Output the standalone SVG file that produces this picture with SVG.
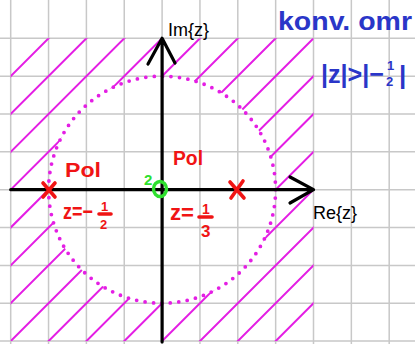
<svg xmlns="http://www.w3.org/2000/svg" width="415" height="344" viewBox="0 0 415 344">
<style>
.grid{stroke:#c8c8c8;stroke-width:1.5;fill:none}
.hatch{stroke:#e41ee4;stroke-width:2;fill:none}
.roc{stroke:#e41ee4;stroke-width:3.8;fill:none;stroke-linecap:round;stroke-dasharray:0 8.49}
.axis{stroke:#000;stroke-width:3.2;fill:none;stroke-linecap:round;stroke-linejoin:round}
.pole{stroke:#f01414;stroke-width:3.6;stroke-linecap:round;fill:none}
.red{fill:#f01414;font-family:"Liberation Sans",Arial,sans-serif;font-weight:bold}
.blue{fill:#2a36c8;font-family:"Liberation Sans",Arial,sans-serif;font-weight:bold}
.blk{fill:#000;font-family:"Liberation Sans",Arial,sans-serif}
.green{fill:#2ee02e;font-family:"Liberation Sans",Arial,sans-serif;font-weight:bold}
</style>
<defs>
<mask id="outside">
<rect x="10.7" y="38.3" width="302.8" height="302.8" fill="#fff"/>
<circle cx="162.1" cy="189.7" r="113.5" fill="#000"/>
</mask>
</defs>
<rect width="415" height="344" fill="#fff"/>
<g id="grid" class="grid">
<path d="M10.7 0V344M48.55 0V344M86.4 0V344M124.25 0V344M162.1 0V344M199.95 0V344M237.8 0V344M275.65 0V344M313.5 0V344M351.35 0V344M389.2 0V344M0 38.3H415M0 76.15H415M0 114H415M0 151.85H415M0 189.7H415M0 227.55H415M0 265.4H415M0 303.25H415M0 341.1H415"/>
</g>
<g id="roc-hatch" class="hatch" mask="url(#outside)">
<path d="M86.85 0L-313.15 400M124.7 0L-275.3 400M162.55 0L-237.45 400M200.4 0L-199.6 400M238.25 0L-161.75 400M276.1 0L-123.9 400M313.95 0L-86.05 400M351.8 0L-48.2 400M389.65 0L-10.35 400M427.5 0L27.5 400M465.35 0L65.35 400M503.2 0L103.2 400M541.05 0L141.05 400M578.9 0L178.9 400M616.75 0L216.75 400"/>
</g>
<g id="roc-boundary">
<circle class="roc" cx="162.1" cy="189.7" r="113.5"/>
</g>
<g id="connectors" class="axis">
<path id="re-axis" d="M10.7 189.7H313.5M290 177L313.5 189.7L290 203"/>
<path id="im-axis" d="M162.1 342V38.3M148 64L162.1 38.3L175 63"/>
</g>
<g id="axis-labels">
<text class="blk" x="168" y="36" font-size="18">Im{z}</text>
<text class="blk" x="313" y="219" font-size="18">Re{z}</text>
</g>
<g id="pole-left">
<path class="pole" d="M43 183L55 197M55 183L43 197"/>
<text class="red" x="65" y="177" font-size="20" textLength="36" lengthAdjust="spacingAndGlyphs">Pol</text>
<text class="red" x="63" y="219" font-size="22" textLength="30" lengthAdjust="spacingAndGlyphs">z=−</text>
<text class="red" x="101" y="211" font-size="13">1</text>
<path class="pole" stroke-width="2" d="M99 214H111"/>
<text class="red" x="100" y="229" font-size="13">2</text>
</g>
<g id="pole-right">
<path class="pole" d="M230 182L244 198M243 181L231 198"/>
<text class="red" x="173" y="165" font-size="20" textLength="30" lengthAdjust="spacingAndGlyphs">Pol</text>
<text class="red" x="170" y="220" font-size="22" textLength="24" lengthAdjust="spacingAndGlyphs">z=</text>
<text class="red" x="202" y="214" font-size="14">1</text>
<path class="pole" stroke-width="2" d="M199 217H212"/>
<text class="red" x="201" y="237" font-size="17">3</text>
</g>
<g id="zero">
<ellipse cx="160" cy="189" rx="6.5" ry="7.5" fill="none" stroke="#2ee02e" stroke-width="3.4"/>
<text class="green" x="144" y="185" font-size="15">2</text>
</g>
<g id="roc-note">
<text class="blue" x="278" y="30" font-size="26" textLength="134" lengthAdjust="spacingAndGlyphs">konv. omr</text>
<text class="blue" x="321" y="83" font-size="26" textLength="63" lengthAdjust="spacingAndGlyphs">|z|&gt;|−</text>
<text class="blue" x="387" y="70" font-size="13">1</text>
<text class="blue" x="386" y="86" font-size="13">2</text>
<text class="blue" x="399" y="84" font-size="26">|</text>
</g>
</svg>
